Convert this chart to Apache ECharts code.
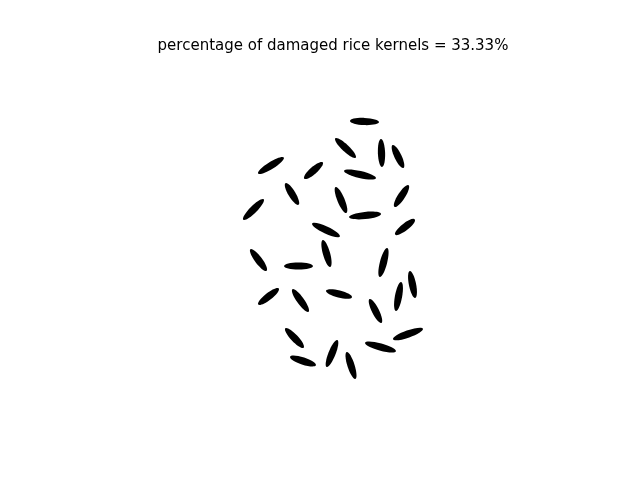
<!DOCTYPE html>
<html><head><meta charset="utf-8">
<script src="https://cdn.jsdelivr.net/npm/echarts@6/dist/echarts.min.js"></script>
<style>html,body{margin:0;background:#fff}#c{width:640px;height:480px}</style>
</head><body><div id="c"></div>
<script>
// kernel end points in image pixel coordinates
const x1 = [351,336,381,393,259,305,345,286,336,395,244,350,313,396,323,251,380,285,259,293,327,410,396,370,286,394,366,327,291,347];
const y1 = [121,139,140,146,173,178,171,184,188,206,219,217,224,234,241,250,276,266,304,290,291,272,310,300,329,339,343,366,357,353];
const x2 = [378,355,382,403,283,322,375,298,346,408,263,380,339,414,330,266,387,312,278,308,351,415,401,381,303,422,395,337,315,355];
const y2 = [122,157,166,167,158,163,178,204,212,186,200,214,236,220,266,270,249,266,289,311,297,297,283,322,347,329,351,341,365,378];
const data = x1.map((v,i)=>[v,y1[i],x2[i],y2[i]]);
const chart = echarts.init(document.getElementById('c'));
chart.setOption({
  animation:false,
  title:{text:'percentage of damaged rice kernels = 33.33%',left:328,top:34,textAlign:'center',
    textStyle:{fontFamily:'DejaVu Sans',fontSize:15,fontWeight:'normal',color:'#000'}},
  grid:{left:0,right:0,top:0,bottom:0},
  xAxis:{type:'value',min:0,max:640,show:false},
  yAxis:{type:'value',min:0,max:480,inverse:true,show:false},
  series:[{type:'custom',data:data,renderItem:function(params,api){
    const a=api.coord([api.value(0),api.value(1)]);
    const b=api.coord([api.value(2),api.value(3)]);
    const cx=(a[0]+b[0])/2, cy=(a[1]+b[1])/2;
    const len=Math.hypot(b[0]-a[0],b[1]-a[1]);
    const ang=Math.atan2(b[1]-a[1],b[0]-a[0]);
    return {type:'ellipse',x:cx,y:cy,rotation:-ang,
      shape:{cx:0,cy:0,rx:len/2+1,ry:3.6},style:{fill:'#000'}};
  }}]
});
</script></body></html>
